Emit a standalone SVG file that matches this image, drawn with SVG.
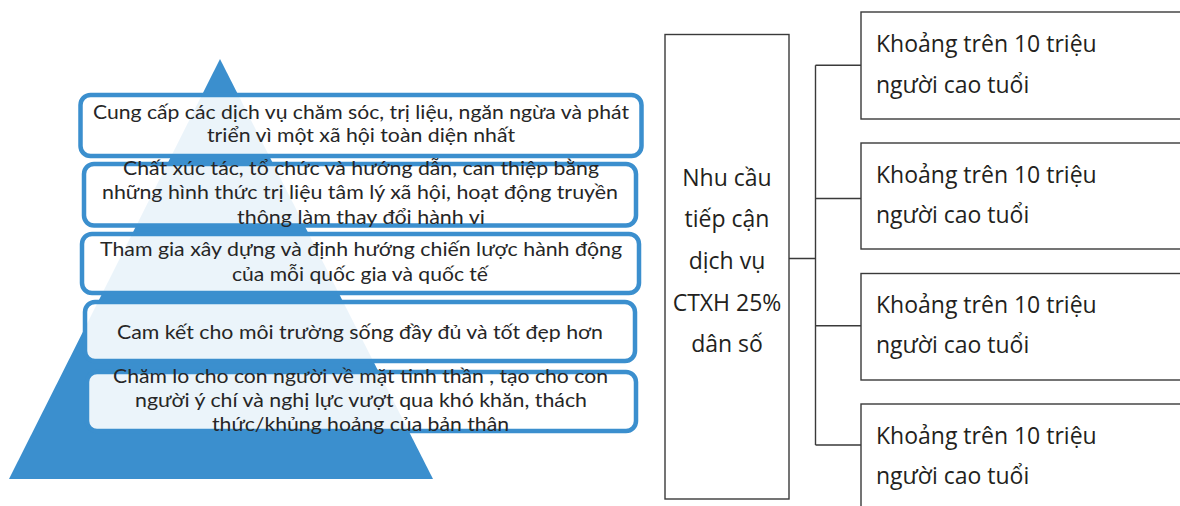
<svg xmlns="http://www.w3.org/2000/svg" width="1180" height="506" viewBox="0 0 1180 506">
  <style>
    .tier { fill: #ffffff; fill-opacity: 0.9; stroke: #3b8fce; stroke-width: 4.5; }
    .tier-text { font-family: Lato, "Liberation Sans", sans-serif; font-size: 20px; fill: #262626; text-anchor: middle; }
    .box { fill: #ffffff; stroke: #3a3a3a; stroke-width: 1.4; }
    .box-text { font-family: "Open Sans", "Noto Sans", sans-serif; font-size: 23px; fill: #231f20; }
    .link { fill: none; stroke: #3a3a3a; stroke-width: 1.4; }
  </style>

  <!-- pyramid backdrop -->
  <g id="pyramid">
    <polygon points="220,59 9,479 433,479" fill="#3b8fce"/>
  </g>

  <!-- pyramid tiers, top to bottom -->
  <g id="tier-1">
    <rect class="tier" x="80.5" y="95" width="561" height="61" rx="10"/>
    <text class="tier-text" x="361" y="119" textLength="536" lengthAdjust="spacingAndGlyphs">Cung cấp các dịch vụ chăm sóc, trị liệu, ngăn ngừa và phát</text>
    <text class="tier-text" x="361" y="142" textLength="308" lengthAdjust="spacingAndGlyphs">triển vì một xã hội toàn diện nhất</text>
  </g>
  <g id="tier-2">
    <rect class="tier" x="84" y="164" width="552" height="61.5" rx="10"/>
    <text class="tier-text" x="361" y="175" textLength="476" lengthAdjust="spacingAndGlyphs">Chất xúc tác, tổ chức và hướng dẫn, can thiệp bằng</text>
    <text class="tier-text" x="360" y="199" textLength="516" lengthAdjust="spacingAndGlyphs">những hình thức trị liệu tâm lý xã hội, hoạt động truyền</text>
    <text class="tier-text" x="361" y="224" textLength="248" lengthAdjust="spacingAndGlyphs">thông làm thay đổi hành vi</text>
  </g>
  <g id="tier-3">
    <rect class="tier" x="82" y="234" width="557" height="59" rx="10"/>
    <text class="tier-text" x="361" y="256" textLength="522" lengthAdjust="spacingAndGlyphs">Tham gia xây dựng và định hướng chiến lược hành động</text>
    <text class="tier-text" x="360" y="281" textLength="256" lengthAdjust="spacingAndGlyphs">của mỗi quốc gia và quốc tế</text>
  </g>
  <g id="tier-4">
    <rect class="tier" x="85" y="302" width="550" height="59" rx="10"/>
    <text class="tier-text" x="360" y="339" textLength="486" lengthAdjust="spacingAndGlyphs">Cam kết cho môi trường sống đầy đủ và tốt đẹp hơn</text>
  </g>
  <g id="tier-5">
    <rect class="tier" x="87" y="372" width="549" height="59" rx="10"/>
    <text class="tier-text" x="360.5" y="383" textLength="495" lengthAdjust="spacingAndGlyphs">Chăm lo cho con người về mặt tinh thần , tạo cho con</text>
    <text class="tier-text" x="361" y="407" textLength="452" lengthAdjust="spacingAndGlyphs">người ý chí và nghị lực vượt qua khó khăn, thách</text>
    <text class="tier-text" x="360.5" y="431" textLength="297" lengthAdjust="spacingAndGlyphs">thức/khủng hoảng của bản thân</text>
  </g>

  <!-- connectors of the tree -->
  <g id="connectors">
    <path class="link" d="M789,258.5 H815.5 M815.5,65.3 V445 M815.5,65.3 H861 M815.5,198.5 H861 M815.5,325.7 H861 M815.5,445 H861"/>
  </g>

  <g id="need">
    <rect class="box" x="665" y="34.5" width="124" height="464.5"/>
    <text class="box-text" x="727" y="186" text-anchor="middle">Nhu cầu</text>
    <text class="box-text" x="727" y="227" text-anchor="middle">tiếp cận</text>
    <text class="box-text" x="727" y="269" text-anchor="middle">dịch vụ</text>
    <text class="box-text" x="727" y="311" text-anchor="middle">CTXH 25%</text>
    <text class="box-text" x="727" y="352" text-anchor="middle">dân số</text>
  </g>

  <g id="group-1">
    <rect class="box" x="861" y="12" width="330" height="107"/>
    <text class="box-text" x="876" y="52">Khoảng trên 10 triệu</text>
    <text class="box-text" x="876" y="93">người cao tuổi</text>
  </g>
  <g id="group-2">
    <rect class="box" x="861" y="143" width="330" height="106"/>
    <text class="box-text" x="876" y="183">Khoảng trên 10 triệu</text>
    <text class="box-text" x="876" y="223">người cao tuổi</text>
  </g>
  <g id="group-3">
    <rect class="box" x="861" y="273.5" width="330" height="106.5"/>
    <text class="box-text" x="876" y="313">Khoảng trên 10 triệu</text>
    <text class="box-text" x="876" y="353">người cao tuổi</text>
  </g>
  <g id="group-4">
    <rect class="box" x="861" y="404" width="330" height="120"/>
    <text class="box-text" x="876" y="444">Khoảng trên 10 triệu</text>
    <text class="box-text" x="876" y="484">người cao tuổi</text>
  </g>
</svg>
